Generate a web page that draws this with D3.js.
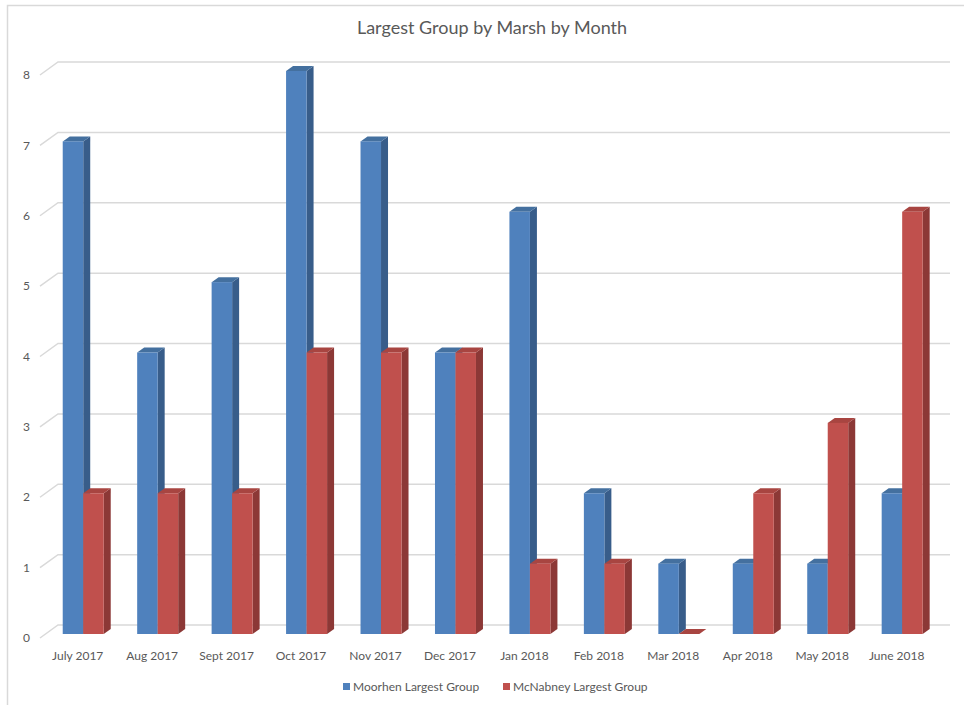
<!DOCTYPE html>
<html>
<head>
<meta charset="utf-8">
<script src="https://cdn.jsdelivr.net/npm/d3@7"></script>
<style>
  html, body { margin: 0; padding: 0; background: #fff; }
  svg { display: block; }
  text { font-family: Lato, "Open Sans", sans-serif; fill: #595959; }
</style>
</head>
<body>
<svg id="chart" width="964" height="705"></svg>
<script>
// Monthly largest group counts for the two marshes
const months = ["July 2017", "Aug 2017", "Sept 2017", "Oct 2017", "Nov 2017", "Dec 2017",
                "Jan 2018", "Feb 2018", "Mar 2018", "Apr 2018", "May 2018", "June 2018"];
const moorhen = [7, 4, 5, 8, 7, 4, 6, 2, 1, 1, 1, 2];
const mcnabney = [2, 2, 2, 4, 4, 4, 1, 1, 0, 2, 3, 6];
const seriesNames = ["Moorhen Largest Group", "McNabney Largest Group"];
const yTicks = [0, 1, 2, 3, 4, 5, 6, 7, 8];

const svg = d3.select("#chart");
const W = 964, H = 705;

// outer chart frame
svg.append("rect")
  .attr("x", 7.5).attr("y", 5.5)
  .attr("width", W + 10).attr("height", H - 4)
  .attr("fill", "#fff").attr("stroke", "#d9d9d9").attr("stroke-width", 1.5);

const series = [
  { name: seriesNames[0], values: moorhen, front: "#4F81BD", side: "#385D8A", top: "#44709F" },
  { name: seriesNames[1], values: mcnabney, front: "#C0504D", side: "#8C3836", top: "#A84541" }
];

// value scale for the bar front faces
const y = d3.scaleLinear().domain([0, 8]).range([634, 71]);
const x = d3.scaleBand().domain(months).range([46, 939.4]).padding(0);
const barW = 20.5;

// 3D offsets: gridline back wall and bar depth
const wall = { dx: 18, dy: -9 };    // back wall relative to bar front
const gridFront = { dx: -18, dy: 4 }; // front edge of the gridline ledge
const depth = { dx: 7, dy: -5 };

// gridlines on back wall + diagonal ledges
const grid = svg.append("g").attr("stroke", "#d9d9d9").attr("stroke-width", 1.5).attr("fill", "none");
yTicks.forEach(t => {
  const yb = y(t) + wall.dy;
  const xb = 58;
  grid.append("path")
    .attr("d", `M${xb + gridFront.dx},${y(t) + gridFront.dy} L${xb},${yb} L950,${yb}`);
});

// y tick labels
svg.append("g").selectAll("text").data(yTicks).join("text")
  .attr("x", 30).attr("y", t => y(t) + gridFront.dy)
  .attr("dy", "0.35em")
  .attr("text-anchor", "end")
  .attr("font-size", 12)
  .text(t => t);

// bars drawn as boxes: front, side, top faces
const bars = svg.append("g");
months.forEach((m, i) => {
  const cx = x(m) + x.bandwidth() / 2;
  series.forEach((s, si) => {
    const v = s.values[i];
    const x0 = cx - barW + si * barW;
    const x1 = x0 + barW;
    const yt = y(v), yb = y(0);
    const g = bars.append("g");
    // side face
    g.append("path")
      .attr("d", `M${x1},${yb} L${x1},${yt} L${x1 + depth.dx},${yt + depth.dy} L${x1 + depth.dx},${yb + depth.dy} Z`)
      .attr("fill", s.side);
    // top face
    g.append("path")
      .attr("d", `M${x0},${yt} L${x0 + depth.dx},${yt + depth.dy} L${x1 + depth.dx},${yt + depth.dy} L${x1},${yt} Z`)
      .attr("fill", s.top);
    // front face
    if (v > 0) {
      g.append("rect")
        .attr("x", x0).attr("y", yt)
        .attr("width", barW).attr("height", yb - yt)
        .attr("fill", s.front);
    }
  });
});

// category labels
svg.append("g").selectAll("text").data(months).join("text")
  .attr("x", m => x(m) + x.bandwidth() / 2 - 5.5)
  .attr("y", 660)
  .attr("text-anchor", "middle")
  .attr("font-size", 12)
  .text(m => m);

// title
svg.append("text")
  .attr("x", 492).attr("y", 34)
  .attr("text-anchor", "middle")
  .attr("font-size", 18)
  .text("Largest Group by Marsh by Month");

// legend
const legend = svg.append("g");
const legendPos = [343, 503];
series.forEach((s, i) => {
  legend.append("rect")
    .attr("x", legendPos[i]).attr("y", 683)
    .attr("width", 7).attr("height", 7)
    .attr("fill", s.front);
  legend.append("text")
    .attr("x", legendPos[i] + 10).attr("y", 687)
    .attr("dy", "0.35em")
    .attr("font-size", 12)
    .text(s.name);
});
</script>
</body>
</html>
